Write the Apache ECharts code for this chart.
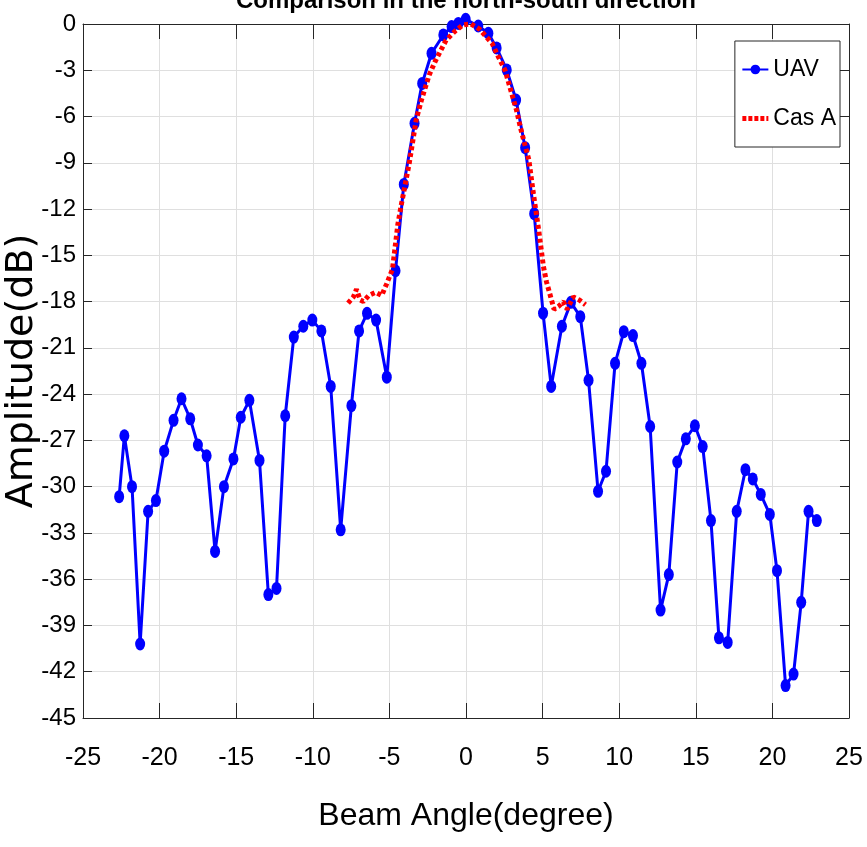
<!DOCTYPE html>
<html>
<head>
<meta charset="utf-8">
<script src="https://cdn.jsdelivr.net/npm/echarts@6/dist/echarts.min.js"></script>
<style>
html,body{margin:0;padding:0;background:#fff;}
#chart{width:867px;height:847px;}
</style>
</head>
<body>
<div id="chart"></div>
<script>
// ---- data ----
const uavAngle = [-22.64,-22.3,-21.8,-21.27,-20.75,-20.24,-19.7,-19.09,-18.57,-18.0,-17.5,-16.93,-16.38,-15.8,-15.18,-14.7,-14.14,-13.48,-12.9,-12.37,-11.8,-11.24,-10.62,-10.03,-9.44,-8.83,-8.18,-7.48,-6.98,-6.46,-5.87,-5.17,-4.6,-4.06,-3.36,-2.86,-2.25,-1.48,-0.94,-0.5,-0.02,0.8,1.46,2.0,2.66,3.27,3.86,4.45,5.03,5.56,6.26,6.85,7.46,8.0,8.62,9.14,9.73,10.3,10.9,11.45,12.02,12.7,13.24,13.79,14.35,14.94,15.45,15.99,16.51,17.08,17.67,18.24,18.72,19.24,19.83,20.3,20.86,21.38,21.88,22.36,22.9];
const uavAmp = [-30.65,-26.7,-30.0,-40.2,-31.6,-30.9,-27.7,-25.7,-24.3,-25.6,-27.3,-28.0,-34.2,-30.0,-28.2,-25.5,-24.4,-28.3,-37.0,-36.6,-25.4,-20.3,-19.6,-19.2,-19.9,-23.5,-32.8,-24.75,-19.9,-18.76,-19.2,-22.9,-16.0,-10.4,-6.44,-3.85,-1.9,-0.71,-0.17,0.04,0.3,-0.13,-0.6,-1.55,-2.98,-4.93,-8.02,-12.3,-18.75,-23.5,-19.6,-18.05,-18.98,-23.1,-30.3,-29.0,-22.0,-19.95,-20.2,-22.0,-26.1,-38.0,-35.7,-28.4,-26.9,-26.05,-27.4,-32.2,-39.8,-40.1,-31.6,-28.9,-29.5,-30.5,-31.8,-35.45,-42.9,-42.15,-37.5,-31.6,-32.2];
const casAngle = [-7.7,-7.35,-7.15,-6.9,-6.7,-6.35,-5.9,-5.5,-5.2,-4.8,-4.45,-4.2,-3.7,-3.25,-2.9,-2.4,-2.0,-1.3,-0.7,-0.2,0.33,0.9,1.7,2.1,2.55,3.3,3.55,4.1,4.4,4.75,5.05,5.25,5.5,5.75,6.05,6.35,6.6,7.0,7.4,7.8];
const casAmp = [-18.1,-17.7,-17.2,-17.9,-18.0,-17.6,-17.4,-17.6,-16.9,-15.9,-13.0,-11.6,-9.0,-6.2,-4.9,-3.3,-2.4,-1.05,-0.45,-0.06,0.0,-0.35,-1.25,-2.1,-3.0,-5.6,-6.7,-8.8,-11.0,-13.4,-15.7,-16.7,-17.6,-18.5,-18.3,-18.0,-18.5,-17.7,-17.9,-18.2];
const seriesNames = ['UAV', 'Cas A'];
const titleText = 'Comparison in the north-south direction';
const xName = 'Beam Angle(degree)';
const yName = 'Amplitude(dB)';

const uavData = uavAngle.map((a, i) => [a, uavAmp[i]]);
const casData = casAngle.map((a, i) => [a, casAmp[i]]);

const FONT = "'Liberation Sans', Arial, Helvetica, sans-serif";
const axisColor = '#262626';
const gridColor = '#dfdfdf';

const chart = echarts.init(document.getElementById('chart'), null, {renderer: 'canvas'});
const option = {
  animation: false,
  backgroundColor: '#ffffff',
  title: {
    text: titleText,
    left: 466,
    textAlign: 'center',
    top: -11,
    padding: 0,
    textStyle: {fontFamily: FONT, fontSize: 24, fontWeight: 'bold', color: '#000'}
  },
  grid: {left: 83, right: 18, top: 24, bottom: 129, containLabel: false, outerBoundsMode: 'none'},
  legend: {
    orient: 'vertical',
    right: 27,
    top: 41,
    padding: [17, 4, 17, 5],
    itemGap: 26,
    itemWidth: 26,
    itemHeight: 12,
    borderColor: '#262626',
    borderWidth: 1,
    borderRadius: 0,
    backgroundColor: '#ffffff',
    textStyle: {fontFamily: FONT, fontSize: 23, color: '#000'},
    data: [
      {name: seriesNames[0]},
      {name: seriesNames[1], itemStyle: {opacity: 0}, lineStyle: {width: 5, type: [4, 2], color: '#ff0000'}}
    ]
  },
  xAxis: [{
    type: 'value', min: -25, max: 25, interval: 5, position: 'bottom',
    name: xName, nameLocation: 'middle', nameGap: 82, nameMoveOverlap: false,
    nameTextStyle: {fontFamily: FONT, fontSize: 32, color: '#000'},
    axisLine: {show: true, onZero: false, lineStyle: {color: axisColor, width: 1}},
    axisTick: {show: true, inside: true, length: 15, lineStyle: {color: axisColor}},
    axisLabel: {fontFamily: FONT, fontSize: 25, color: '#000', margin: 28},
    splitLine: {show: true, lineStyle: {color: gridColor, width: 1}}
  }, {
    type: 'value', min: -25, max: 25, interval: 5, position: 'top',
    axisLine: {show: true, onZero: false, lineStyle: {color: axisColor, width: 1}},
    axisTick: {show: true, inside: true, length: 15, lineStyle: {color: axisColor}},
    axisLabel: {show: false},
    splitLine: {show: false}
  }],
  yAxis: [{
    type: 'value', min: -45, max: 0, interval: 3, position: 'left',
    name: yName, nameLocation: 'middle', nameGap: 42, nameRotate: 90, nameMoveOverlap: false,
    nameTextStyle: {fontFamily: "'DejaVu Sans', sans-serif", fontSize: 38, color: '#000'},
    axisLine: {show: true, onZero: false, lineStyle: {color: axisColor, width: 1}},
    axisTick: {show: true, inside: true, length: 9, lineStyle: {color: axisColor}},
    axisLabel: {fontFamily: FONT, fontSize: 24, color: '#000', margin: 7},
    splitLine: {show: true, lineStyle: {color: gridColor, width: 1}}
  }, {
    type: 'value', min: -45, max: 0, interval: 3, position: 'right',
    axisLine: {show: true, onZero: false, lineStyle: {color: axisColor, width: 1}},
    axisTick: {show: true, inside: true, length: 9, lineStyle: {color: axisColor}},
    axisLabel: {show: false},
    splitLine: {show: false}
  }],
  series: [{
    name: seriesNames[0],
    type: 'line',
    xAxisIndex: 0, yAxisIndex: 0,
    data: uavData,
    clip: false,
    symbol: 'path://M50,0A50,50 0 1,1 50,100A50,50 0 1,1 50,0Z',
    symbolSize: [10, 13],
    showSymbol: true,
    showAllSymbol: true,
    lineStyle: {color: '#0000ff', width: 3},
    itemStyle: {color: '#0000ff'},
    z: 2
  }, {
    name: seriesNames[1],
    type: 'line',
    xAxisIndex: 0, yAxisIndex: 0,
    data: casData,
    clip: false,
    symbol: 'none',
    lineStyle: {color: '#ff0000', width: 5, type: [4, 3]},
    itemStyle: {color: '#ff0000'},
    z: 3
  }]
};
chart.setOption(option);
</script>
</body>
</html>
